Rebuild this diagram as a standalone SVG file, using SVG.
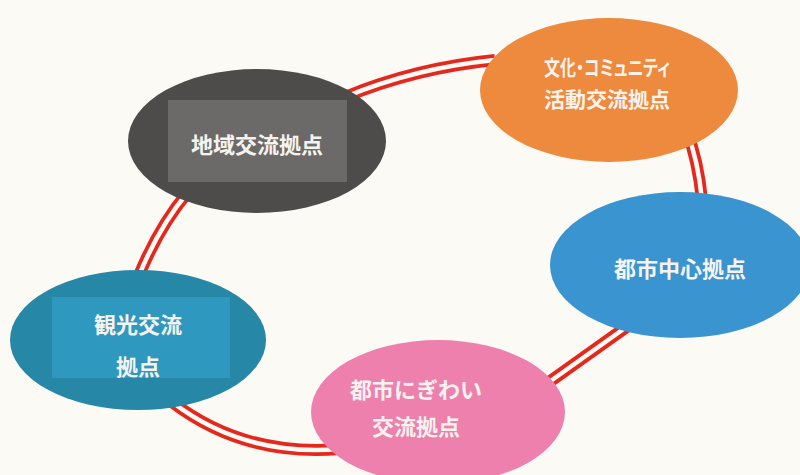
<svg xmlns="http://www.w3.org/2000/svg" width="800" height="475" viewBox="0 0 800 475">
<style>
.red{fill:none;stroke:#e4281e;stroke-width:12;stroke-linecap:butt}
.gap{fill:none;stroke:#fbfaf5;stroke-width:4.5;stroke-linecap:butt}
.lbl{font-family:"Noto Sans CJK JP","Noto Sans",sans-serif;font-weight:bold;font-size:22px;fill:#f6f3ee;text-anchor:middle}
.sm{font-size:21px}
.palt{font-feature-settings:"palt"}
</style>
<rect x="0" y="0" width="800" height="475" fill="#fbfaf5"/>
<g id="connectors">
  <path class="red" d="M 345 97 Q 415 68 495 60"/>
  <path class="gap" d="M 345 97 Q 415 68 495 60"/>
  <path class="red" d="M 687 132 Q 698 160 702 200"/>
  <path class="gap" d="M 687 132 Q 698 160 702 200"/>
  <path class="red" d="M 632 323 L 545 385"/>
  <path class="gap" d="M 632 323 L 545 385"/>
  <path class="red" d="M 188 192 Q 158 228 138 278"/>
  <path class="gap" d="M 188 192 Q 158 228 138 278"/>
  <path class="red" d="M 172 402 Q 244 457 340 449"/>
  <path class="gap" d="M 172 402 Q 244 457 340 449"/>
</g>
<g id="node-chiiki">
  <ellipse cx="257" cy="141" rx="129" ry="72" fill="#4e4c4b"/>
  <rect x="168" y="100" width="179" height="82" fill="#6c6a69"/>
  <text class="lbl" x="257" y="153">地域交流拠点</text>
</g>
<g id="node-bunka">
  <ellipse cx="609" cy="90" rx="129" ry="72" fill="#ee8a3d"/>
  <text class="lbl sm palt" x="607" y="75" textLength="126" lengthAdjust="spacingAndGlyphs">文化・コミュニティ</text>
  <text class="lbl sm" x="607" y="107">活動交流拠点</text>
</g>
<g id="node-toshichushin">
  <ellipse cx="680" cy="265" rx="130" ry="73" fill="#3a94d0"/>
  <text class="lbl" x="680" y="277">都市中心拠点</text>
</g>
<g id="node-kanko">
  <ellipse cx="138" cy="340" rx="128" ry="70" fill="#2787a6"/>
  <rect x="52" y="297" width="178" height="81" fill="#2f98bf"/>
  <text class="lbl" x="138" y="333">観光交流</text>
  <text class="lbl" x="138" y="375">拠点</text>
</g>
<g id="node-nigiwai">
  <ellipse cx="438" cy="412" rx="127" ry="72" fill="#ee80ad"/>
  <text class="lbl" x="416" y="398">都市にぎわい</text>
  <text class="lbl" x="416" y="435">交流拠点</text>
</g>
</svg>
